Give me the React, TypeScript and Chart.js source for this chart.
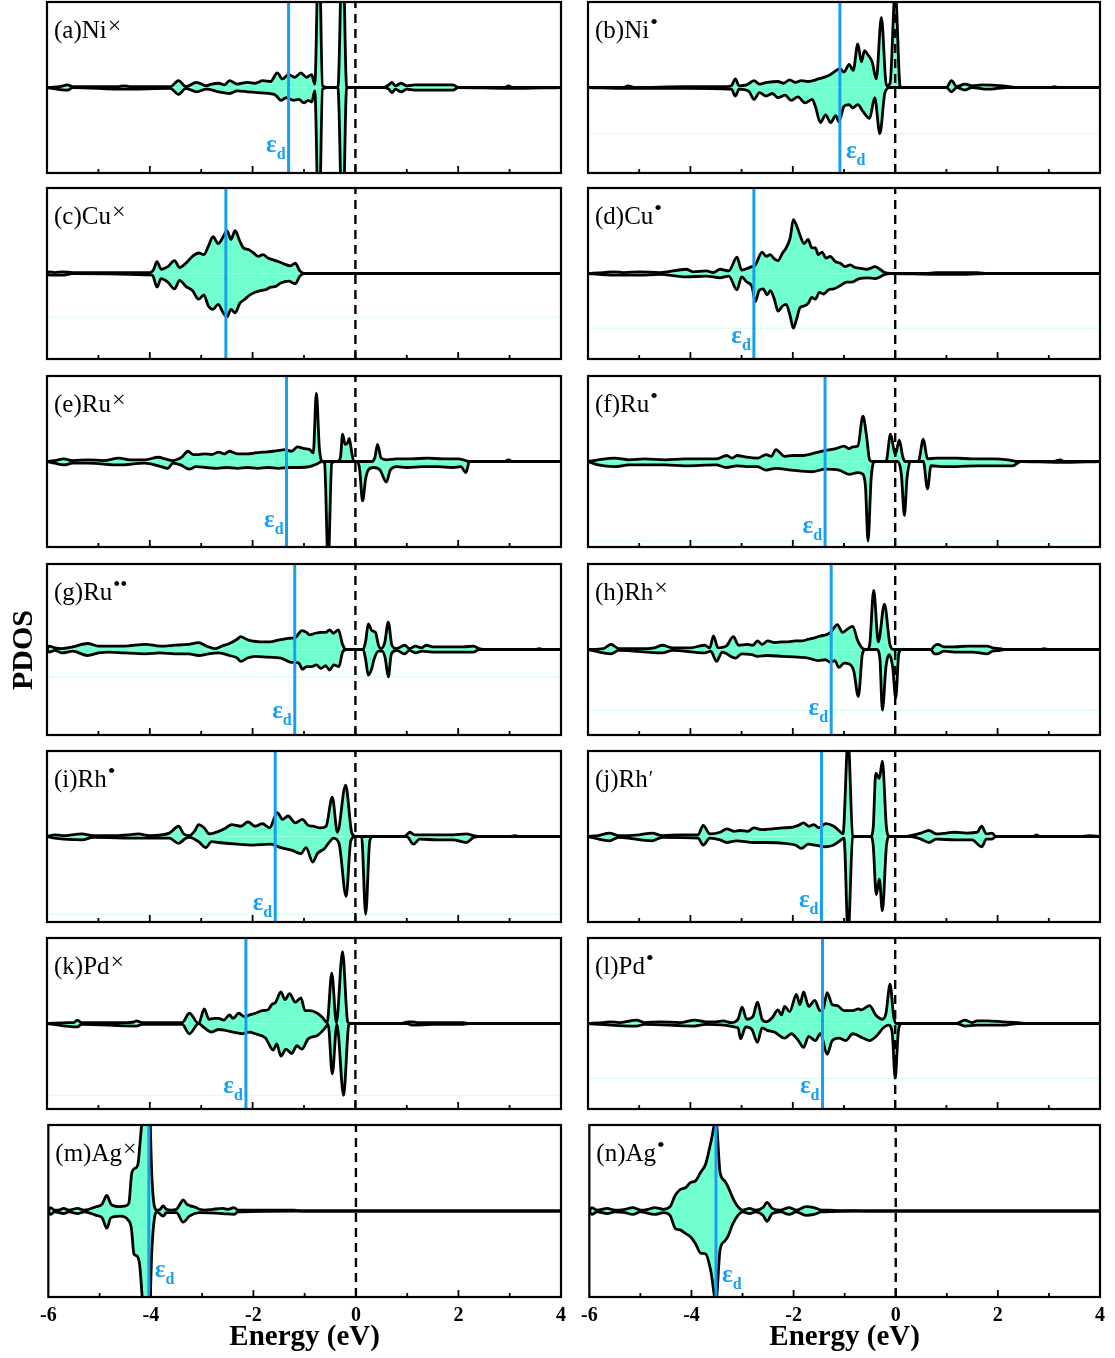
import { useEffect, useRef } from 'react';
import { Chart, registerables } from 'chart.js';

Chart.register(...registerables);

type Pt = [number, number];

// ---- energy window (eV) ----
const E_MIN = -6;
const E_MAX = 4;

// ---- panel metadata ----
const panelTags = ['a', 'b', 'c', 'd', 'e', 'f', 'g', 'h', 'i', 'j', 'k', 'l', 'm', 'n'];
const elements = ['Ni', 'Ni', 'Cu', 'Cu', 'Ru', 'Ru', 'Ru', 'Rh', 'Rh', 'Rh', 'Pd', 'Pd', 'Ag', 'Ag'];
const charges = ['×', '•', '×', '•', '×', '•', '••', '×', '•', '′', '×', '•', '×', '•'];
// d-band centres (eV)
const dBandCentres = [-1.3, -1.08, -2.52, -2.76, -1.34, -1.37, -1.18, -1.25, -1.56, -1.44, -2.13, -1.42, -4.04, -3.52];

// ---- PDOS, spin up (positive) and spin down (negative), [energy, states] ----
const niX_up: Pt[] = [[-6,0],[-5.75,0.01],[-5.6,0.03],[-5.5,0.01],[-4.6,0.01],[-4.5,0.02],[-4.4,0.01],[-3.6,0.01],[-3.44,0.08],[-3.3,0.01],[-3.09,0.06],[-2.9,0.02],[-2.8,0.04],[-2.66,0.05],[-2.55,0.03],[-2.45,0.08],[-2.3,0.04],[-2.1,0.06],[-1.95,0.05],[-1.8,0.08],[-1.65,0.07],[-1.52,0.17],[-1.42,0.1],[-1.3,0.15],[-1.18,0.12],[-1.06,0.17],[-0.95,0.12],[-0.85,0.15],[-0.79,0.04],[-0.71,1.8],[-0.64,0.02],[-0.55,0],[-0.34,0],[-0.25,1.8],[-0.17,0],[0.55,0],[0.65,0.03],[0.71,0.06],[0.78,0.02],[0.89,0.05],[1.0,0.02],[1.15,0.03],[1.4,0.03],[1.65,0.03],[1.9,0.03],[2.0,0],[2.9,0],[2.98,0.02],[3.05,0],[4,0]];
const niX_dn: Pt[] = [[-6,0],[-5.6,-0.03],[-5.5,0],[-4.5,-0.02],[-3.6,-0.01],[-3.44,-0.08],[-3.3,-0.01],[-3.09,-0.05],[-2.9,-0.02],[-2.66,-0.05],[-2.45,-0.07],[-2.3,-0.04],[-2.1,-0.05],[-1.9,-0.06],[-1.7,-0.07],[-1.55,-0.09],[-1.45,-0.15],[-1.35,-0.12],[-1.2,-0.15],[-1.1,-0.14],[-1.0,-0.18],[-0.92,-0.15],[-0.85,-0.17],[-0.79,-0.04],[-0.71,-1.8],[-0.64,-0.02],[-0.55,0],[-0.34,0],[-0.25,-1.8],[-0.17,0],[0.55,0],[0.65,-0.02],[0.71,-0.06],[0.78,-0.02],[0.89,-0.05],[1.0,-0.02],[1.15,-0.03],[1.4,-0.03],[1.65,-0.03],[1.9,-0.03],[2.0,0],[2.98,-0.01],[4,0]];

const niD_up: Pt[] = [[-6,0],[-5.3,0],[-5.22,0.02],[-5.1,0],[-4.1,0.01],[-3.3,0.01],[-3.2,0.02],[-3.12,0.1],[-3.05,0.02],[-2.9,0.03],[-2.76,0.08],[-2.65,0.04],[-2.5,0.06],[-2.29,0.07],[-2.18,0.05],[-2.06,0.09],[-1.95,0.06],[-1.83,0.08],[-1.7,0.07],[-1.5,0.1],[-1.3,0.14],[-1.15,0.2],[-1.08,0.22],[-1.0,0.18],[-0.9,0.27],[-0.82,0.2],[-0.73,0.51],[-0.66,0.3],[-0.6,0.43],[-0.53,0.38],[-0.45,0.3],[-0.37,0.1],[-0.27,0.82],[-0.17,0.02],[-0.1,0.05],[0.0,1.15],[0.1,0],[1.0,0],[1.1,0.08],[1.2,0.01],[1.36,0.04],[1.5,0.02],[1.7,0.03],[2.1,0.02],[2.4,0],[3.05,0],[3.1,0.01],[3.2,0],[4,0]];
const niD_dn: Pt[] = [[-6,0],[-5.22,-0.01],[-4.1,-0.01],[-3.2,-0.02],[-3.12,-0.1],[-3.05,-0.02],[-2.85,-0.05],[-2.76,-0.14],[-2.65,-0.06],[-2.52,-0.1],[-2.4,-0.07],[-2.29,-0.12],[-2.15,-0.09],[-2.03,-0.15],[-1.9,-0.11],[-1.76,-0.18],[-1.62,-0.14],[-1.56,-0.22],[-1.46,-0.41],[-1.36,-0.32],[-1.26,-0.41],[-1.16,-0.33],[-1.1,-0.4],[-1.0,-0.22],[-0.9,-0.2],[-0.83,-0.24],[-0.73,-0.2],[-0.63,-0.28],[-0.5,-0.36],[-0.4,-0.12],[-0.3,-0.54],[-0.2,-0.06],[-0.1,0],[1.0,0],[1.1,-0.05],[1.2,0],[1.36,-0.03],[1.5,0],[1.8,-0.02],[2.2,0],[4,0]];

const cuX_up: Pt[] = [[-6,0],[-5.95,0.02],[-5.85,0.01],[-5.7,0.02],[-5.5,0.01],[-4.5,0.01],[-4.0,0.01],[-3.93,0.04],[-3.86,0.14],[-3.78,0.05],[-3.65,0.08],[-3.52,0.15],[-3.42,0.07],[-3.3,0.12],[-3.17,0.2],[-3.05,0.24],[-2.95,0.22],[-2.86,0.32],[-2.77,0.43],[-2.67,0.35],[-2.58,0.42],[-2.5,0.5],[-2.42,0.4],[-2.34,0.5],[-2.25,0.38],[-2.18,0.3],[-2.08,0.28],[-1.98,0.24],[-1.89,0.2],[-1.8,0.22],[-1.7,0.18],[-1.6,0.16],[-1.5,0.14],[-1.38,0.11],[-1.27,0.09],[-1.17,0.12],[-1.08,0.03],[-1.0,0],[4,0]];
const cuX_dn: Pt[] = [[-6,0],[-5.95,-0.02],[-5.7,-0.02],[-5.5,0],[-3.95,-0.02],[-3.86,-0.16],[-3.78,-0.06],[-3.65,-0.1],[-3.52,-0.18],[-3.42,-0.08],[-3.3,-0.15],[-3.17,-0.2],[-3.05,-0.3],[-2.95,-0.25],[-2.86,-0.38],[-2.77,-0.42],[-2.67,-0.36],[-2.58,-0.45],[-2.5,-0.51],[-2.42,-0.42],[-2.34,-0.46],[-2.25,-0.35],[-2.15,-0.3],[-2.05,-0.25],[-1.95,-0.22],[-1.85,-0.2],[-1.75,-0.19],[-1.65,-0.16],[-1.55,-0.15],[-1.45,-0.11],[-1.3,-0.09],[-1.17,-0.12],[-1.08,-0.03],[-1.0,0],[4,0]];

const cuD_up: Pt[] = [[-6,0],[-5.7,0.01],[-5.5,0.02],[-5.3,0.01],[-5.0,0.02],[-4.6,0.01],[-4.08,0.05],[-3.95,0.02],[-3.69,0.03],[-3.55,0.01],[-3.42,0.05],[-3.25,0.03],[-3.09,0.19],[-3.0,0.04],[-2.93,0.05],[-2.8,0.08],[-2.73,0.1],[-2.6,0.25],[-2.52,0.2],[-2.44,0.22],[-2.36,0.17],[-2.29,0.15],[-2.2,0.24],[-2.13,0.3],[-2.05,0.42],[-1.99,0.63],[-1.92,0.55],[-1.86,0.45],[-1.78,0.35],[-1.7,0.4],[-1.63,0.3],[-1.56,0.3],[-1.5,0.22],[-1.43,0.25],[-1.35,0.18],[-1.27,0.2],[-1.17,0.14],[-1.07,0.12],[-0.98,0.08],[-0.88,0.1],[-0.78,0.07],[-0.68,0.06],[-0.55,0.05],[-0.39,0.08],[-0.3,0.05],[-0.2,0.01],[-0.1,0],[0.6,0],[0.8,0.01],[1.2,0.01],[1.6,0.01],[1.8,0],[4,0]];
const cuD_dn: Pt[] = [[-6,0],[-5.5,-0.02],[-5.0,-0.02],[-4.6,-0.01],[-4.08,-0.04],[-3.69,-0.03],[-3.42,-0.05],[-3.25,-0.03],[-3.09,-0.19],[-3.0,-0.04],[-2.9,-0.1],[-2.8,-0.15],[-2.73,-0.33],[-2.66,-0.2],[-2.58,-0.18],[-2.5,-0.25],[-2.44,-0.2],[-2.36,-0.3],[-2.29,-0.44],[-2.2,-0.38],[-2.13,-0.36],[-2.05,-0.5],[-1.99,-0.64],[-1.92,-0.52],[-1.86,-0.4],[-1.78,-0.38],[-1.7,-0.35],[-1.63,-0.28],[-1.56,-0.3],[-1.48,-0.22],[-1.4,-0.24],[-1.3,-0.19],[-1.2,-0.18],[-1.07,-0.14],[-0.95,-0.1],[-0.85,-0.1],[-0.7,-0.06],[-0.55,-0.05],[-0.39,-0.06],[-0.3,-0.04],[-0.2,-0.01],[-0.1,0],[0.8,-0.01],[1.4,-0.01],[1.8,0],[4,0]];

const ruX_up: Pt[] = [[-6,0],[-5.85,0.01],[-5.67,0.03],[-5.5,0.01],[-5.2,0.02],[-4.9,0.01],[-4.6,0.04],[-4.4,0.02],[-4.1,0.02],[-3.83,0.05],[-3.7,0.03],[-3.55,0.01],[-3.48,0.02],[-3.38,0.05],[-3.26,0.12],[-3.15,0.08],[-3.05,0.08],[-2.92,0.09],[-2.8,0.08],[-2.66,0.11],[-2.55,0.09],[-2.45,0.12],[-2.3,0.09],[-2.1,0.09],[-1.95,0.1],[-1.78,0.11],[-1.6,0.12],[-1.48,0.13],[-1.38,0.14],[-1.24,0.12],[-1.13,0.17],[-0.99,0.15],[-0.89,0.14],[-0.82,0.1],[-0.76,0.8],[-0.7,0.15],[-0.64,0],[-0.35,0],[-0.29,0.05],[-0.25,0.32],[-0.2,0.2],[-0.15,0.22],[-0.12,0.27],[-0.07,0.1],[-0.03,0],[0.32,0],[0.38,0.05],[0.43,0.2],[0.5,0.04],[0.6,0.02],[0.8,0.03],[1.1,0.03],[1.4,0.04],[1.7,0.03],[2.0,0.03],[2.1,0.02],[2.2,0],[2.9,0],[2.98,0.02],[3.05,0],[4,0]];
const ruX_dn: Pt[] = [[-6,0],[-5.85,-0.02],[-5.67,-0.04],[-5.5,-0.02],[-5.2,-0.02],[-4.6,-0.04],[-4.1,-0.02],[-3.83,-0.05],[-3.65,-0.08],[-3.55,-0.02],[-3.4,-0.04],[-3.23,-0.09],[-3.1,-0.06],[-2.9,-0.07],[-2.7,-0.08],[-2.5,-0.07],[-2.3,-0.08],[-2.1,-0.07],[-1.9,-0.08],[-1.7,-0.07],[-1.5,-0.08],[-1.31,-0.07],[-1.1,-0.07],[-0.89,-0.06],[-0.75,-0.03],[-0.65,0],[-0.6,-0.02],[-0.53,-1.2],[-0.46,-0.02],[-0.4,0],[0.02,0],[0.08,-0.08],[0.14,-0.46],[0.2,-0.2],[0.25,-0.1],[0.35,-0.07],[0.48,-0.1],[0.6,-0.24],[0.68,-0.1],[0.8,-0.06],[1.0,-0.07],[1.3,-0.06],[1.6,-0.06],[1.9,-0.07],[2.05,-0.06],[2.15,-0.13],[2.22,0],[4,0]];

const ruD_up: Pt[] = [[-6,0],[-5.8,0.02],[-5.48,0.04],[-5.2,0.02],[-4.9,0.03],[-4.5,0.02],[-4.1,0.03],[-3.5,0.03],[-3.29,0.07],[-3.18,0.04],[-3.09,0.07],[-2.9,0.05],[-2.69,0.04],[-2.52,0.08],[-2.42,0.06],[-2.33,0.14],[-2.16,0.06],[-2.0,0.07],[-1.83,0.07],[-1.56,0.1],[-1.36,0.13],[-1.16,0.15],[-1.0,0.18],[-0.9,0.15],[-0.83,0.17],[-0.73,0.18],[-0.63,0.53],[-0.56,0.3],[-0.5,0.02],[-0.45,0],[-0.18,0],[-0.09,0.32],[0.0,0.08],[0.08,0.25],[0.15,0.05],[0.2,0],[0.45,0],[0.55,0.26],[0.63,0.03],[0.8,0.04],[1.0,0.04],[1.2,0.04],[1.5,0.03],[1.9,0.03],[2.2,0.02],[2.4,0],[3.1,0],[3.22,0.02],[3.3,0],[4,0]];
const ruD_dn: Pt[] = [[-6,0],[-5.8,-0.04],[-5.48,-0.06],[-5.2,-0.04],[-4.9,-0.04],[-4.5,-0.04],[-4.1,-0.05],[-3.5,-0.04],[-3.29,-0.07],[-3.1,-0.05],[-2.9,-0.06],[-2.69,-0.06],[-2.52,-0.1],[-2.33,-0.08],[-2.03,-0.1],[-1.63,-0.12],[-1.36,-0.09],[-1.1,-0.1],[-0.9,-0.15],[-0.73,-0.13],[-0.63,-0.15],[-0.58,-0.3],[-0.53,-0.93],[-0.47,-0.2],[-0.4,0],[0.05,0],[0.12,-0.15],[0.18,-0.63],[0.23,-0.2],[0.3,0],[0.55,0],[0.63,-0.32],[0.7,-0.05],[0.9,-0.06],[1.2,-0.06],[1.6,-0.05],[1.9,-0.05],[2.3,-0.05],[2.45,0],[3.22,-0.01],[4,0]];

const ruDD_up: Pt[] = [[-6,0],[-5.96,0.04],[-5.85,0.02],[-5.71,0.01],[-5.5,0.03],[-5.21,0.07],[-5.0,0.04],[-4.79,0.04],[-4.5,0.04],[-4.08,0.06],[-3.8,0.04],[-3.51,0.05],[-3.25,0.06],[-3.05,0.08],[-2.9,0.04],[-2.73,0.01],[-2.6,0.04],[-2.45,0.07],[-2.3,0.12],[-2.23,0.15],[-2.12,0.12],[-2.02,0.1],[-1.85,0.09],[-1.67,0.09],[-1.5,0.11],[-1.31,0.13],[-1.17,0.14],[-1.04,0.22],[-0.95,0.2],[-0.89,0.17],[-0.78,0.19],[-0.67,0.2],[-0.58,0.2],[-0.5,0.23],[-0.43,0.19],[-0.33,0.23],[-0.25,0.06],[-0.18,0],[0.15,0],[0.2,0.1],[0.25,0.3],[0.32,0.22],[0.39,0.2],[0.45,0.05],[0.5,0.01],[0.57,0.08],[0.64,0.32],[0.71,0.05],[0.8,0.01],[0.96,0.05],[1.05,0.01],[1.17,0.04],[1.28,0.02],[1.38,0.05],[1.5,0.03],[1.8,0.03],[2.1,0.03],[2.3,0.04],[2.4,0.01],[2.5,0],[3.5,0],[3.58,0.01],[3.65,0],[4,0]];
const ruDD_dn: Pt[] = [[-6,0],[-5.96,-0.03],[-5.85,-0.01],[-5.71,-0.04],[-5.5,-0.02],[-5.21,-0.07],[-5.0,-0.04],[-4.79,-0.03],[-4.5,-0.04],[-4.08,-0.05],[-3.8,-0.04],[-3.51,-0.05],[-3.25,-0.05],[-3.05,-0.07],[-2.85,-0.05],[-2.66,-0.04],[-2.45,-0.07],[-2.3,-0.1],[-2.23,-0.14],[-2.1,-0.1],[-1.95,-0.08],[-1.7,-0.09],[-1.45,-0.1],[-1.24,-0.15],[-1.1,-0.16],[-1.03,-0.23],[-0.95,-0.2],[-0.85,-0.2],[-0.76,-0.18],[-0.67,-0.22],[-0.58,-0.19],[-0.5,-0.24],[-0.42,-0.18],[-0.32,-0.2],[-0.25,-0.03],[-0.18,0],[0.15,0],[0.2,-0.12],[0.25,-0.3],[0.32,-0.22],[0.36,-0.12],[0.45,-0.02],[0.52,-0.02],[0.58,-0.1],[0.64,-0.32],[0.7,-0.05],[0.8,-0.01],[0.96,-0.05],[1.05,-0.01],[1.17,-0.04],[1.3,-0.02],[1.5,-0.03],[1.9,-0.03],[2.3,-0.03],[2.4,0],[4,0]];

const rhX_up: Pt[] = [[-6,0],[-5.7,0.01],[-5.55,0.06],[-5.4,0.01],[-5.0,0.01],[-4.7,0.02],[-4.55,0.05],[-4.35,0.02],[-4.0,0.02],[-3.72,0.05],[-3.62,0.02],[-3.55,0.16],[-3.46,0.02],[-3.3,0.04],[-3.16,0.15],[-3.06,0.05],[-2.89,0.06],[-2.78,0.05],[-2.69,0.1],[-2.6,0.06],[-2.49,0.1],[-2.35,0.08],[-2.2,0.09],[-2.09,0.09],[-1.95,0.1],[-1.83,0.1],[-1.7,0.12],[-1.56,0.14],[-1.45,0.16],[-1.36,0.17],[-1.26,0.2],[-1.13,0.29],[-1.03,0.2],[-0.93,0.24],[-0.83,0.27],[-0.73,0.1],[-0.63,0.01],[-0.55,0],[-0.5,0.05],[-0.42,0.69],[-0.33,0.09],[-0.21,0.53],[-0.1,0.05],[-0.03,0],[0.7,0],[0.76,0.04],[0.83,0.06],[0.95,0.03],[1.16,0.03],[1.4,0.04],[1.6,0.04],[1.8,0.04],[1.9,0.02],[2.05,0.01],[2.15,0],[2.85,0],[2.9,0.01],[3.0,0],[4,0]];
const rhX_dn: Pt[] = [[-6,0],[-5.55,-0.05],[-5.4,-0.01],[-4.55,-0.04],[-4.35,-0.01],[-3.72,-0.04],[-3.6,-0.02],[-3.49,-0.14],[-3.38,-0.03],[-3.12,-0.1],[-3.0,-0.05],[-2.8,-0.06],[-2.69,-0.08],[-2.5,-0.07],[-2.2,-0.08],[-1.9,-0.09],[-1.7,-0.1],[-1.5,-0.13],[-1.36,-0.12],[-1.26,-0.15],[-1.18,-0.13],[-1.1,-0.21],[-1.0,-0.16],[-0.9,-0.17],[-0.81,-0.25],[-0.72,-0.55],[-0.64,-0.05],[-0.58,0],[-0.36,0],[-0.3,-0.1],[-0.25,-0.71],[-0.18,-0.2],[-0.12,-0.06],[-0.05,-0.2],[0.01,-0.57],[0.07,-0.05],[0.12,0],[0.7,0],[0.76,-0.05],[0.83,-0.05],[0.95,-0.02],[1.16,-0.03],[1.5,-0.03],[1.8,-0.05],[1.9,-0.02],[2.05,-0.01],[2.15,0],[4,0]];

const rhD_up: Pt[] = [[-6,0],[-5.85,0.02],[-5.7,0.01],[-5.32,0.03],[-5.1,0.01],[-4.8,0.01],[-4.4,0.02],[-4.22,0.03],[-4.0,0.01],[-3.62,0.04],[-3.44,0.12],[-3.34,0.03],[-3.23,0.01],[-3.12,0.07],[-3.05,0.14],[-2.94,0.1],[-2.84,0.03],[-2.66,0.06],[-2.52,0.1],[-2.41,0.14],[-2.23,0.12],[-2.09,0.17],[-1.95,0.12],[-1.81,0.15],[-1.67,0.1],[-1.52,0.28],[-1.42,0.2],[-1.31,0.24],[-1.17,0.16],[-1.03,0.2],[-0.92,0.13],[-0.83,0.12],[-0.67,0.1],[-0.57,0.12],[-0.45,0.46],[-0.35,0.05],[-0.19,0.6],[-0.07,0.04],[0,0],[0.95,0],[1.06,0.05],[1.15,0.02],[1.3,0.02],[1.6,0.02],[1.9,0.02],[2.16,0.03],[2.3,0.01],[2.4,0],[3.0,0],[3.1,0.01],[3.2,0],[4,0]];
const rhD_dn: Pt[] = [[-6,0],[-5.85,-0.02],[-5.32,-0.04],[-5.1,-0.01],[-4.22,-0.02],[-3.62,-0.02],[-3.44,-0.08],[-3.3,-0.02],[-3.23,-0.01],[-3.05,-0.06],[-2.91,-0.13],[-2.8,-0.06],[-2.66,-0.07],[-2.3,-0.09],[-2.0,-0.1],[-1.65,-0.09],[-1.45,-0.13],[-1.24,-0.16],[-1.06,-0.2],[-0.96,-0.13],[-0.83,-0.3],[-0.74,-0.2],[-0.6,-0.14],[-0.5,-0.06],[-0.43,-0.02],[-0.32,-0.08],[-0.18,-0.7],[-0.09,-0.05],[0,0],[0.12,0],[0.2,-0.91],[0.28,-0.05],[0.35,0],[1.0,0],[1.13,-0.09],[1.25,-0.03],[1.6,-0.04],[1.9,-0.04],[2.16,-0.07],[2.3,-0.01],[2.4,0],[4,0]];

const rhP_up: Pt[] = [[-6,0],[-5.8,0.01],[-5.58,0.04],[-5.4,0.01],[-5.0,0.02],[-4.75,0.04],[-4.55,0.01],[-4.2,0.02],[-4.0,0.02],[-3.85,0.02],[-3.75,0.13],[-3.62,0.03],[-3.42,0.05],[-3.29,0.09],[-3.15,0.06],[-3.02,0.07],[-2.88,0.06],[-2.76,0.1],[-2.6,0.08],[-2.4,0.09],[-2.2,0.1],[-2.0,0.11],[-1.89,0.13],[-1.79,0.16],[-1.69,0.12],[-1.59,0.14],[-1.49,0.1],[-1.36,0.15],[-1.2,0.12],[-1.1,0.07],[-1.02,0.03],[-0.92,1.15],[-0.83,0.01],[-0.78,0],[-0.48,0],[-0.43,0.1],[-0.38,0.74],[-0.31,0.68],[-0.25,0.88],[-0.17,0.1],[-0.11,0],[0.2,0],[0.3,0.01],[0.5,0.04],[0.66,0.07],[0.8,0.03],[1.0,0.04],[1.16,0.05],[1.4,0.04],[1.6,0.05],[1.69,0.12],[1.78,0.03],[1.89,0.04],[1.97,0],[2.7,0],[2.76,0.02],[2.82,0],[3.6,0],[3.8,0.01],[4,0]];
const rhP_dn: Pt[] = [[-6,0],[-5.58,-0.05],[-5.4,-0.01],[-4.75,-0.05],[-4.55,-0.01],[-3.85,-0.02],[-3.75,-0.1],[-3.62,-0.02],[-3.42,-0.04],[-3.29,-0.07],[-3.1,-0.05],[-2.76,-0.07],[-2.5,-0.07],[-2.16,-0.08],[-1.95,-0.1],[-1.83,-0.14],[-1.7,-0.09],[-1.56,-0.1],[-1.36,-0.12],[-1.2,-0.1],[-1.08,-0.05],[-1.0,-0.02],[-0.92,-1.15],[-0.83,-0.01],[-0.78,0],[-0.48,0],[-0.43,-0.1],[-0.37,-0.68],[-0.31,-0.5],[-0.25,-0.87],[-0.17,-0.1],[-0.11,0],[0.3,0],[0.5,-0.03],[0.66,-0.07],[0.8,-0.03],[1.16,-0.04],[1.5,-0.04],[1.69,-0.12],[1.78,-0.03],[1.89,-0.03],[1.97,0],[4,0]];

const pdX_up: Pt[] = [[-6,0],[-5.6,0.01],[-5.48,0.01],[-5.41,0.04],[-5.33,0.01],[-4.5,0.01],[-4.3,0.02],[-4.26,0.03],[-4.15,0.01],[-3.8,0.01],[-3.37,0.01],[-3.23,0.12],[-3.05,0],[-2.94,0.17],[-2.85,0.05],[-2.75,0.06],[-2.66,0.06],[-2.56,0.04],[-2.45,0.1],[-2.38,0.06],[-2.27,0.12],[-2.16,0.08],[-2.06,0.1],[-1.95,0.12],[-1.81,0.15],[-1.7,0.16],[-1.63,0.22],[-1.55,0.25],[-1.45,0.37],[-1.37,0.28],[-1.28,0.35],[-1.17,0.25],[-1.06,0.3],[-0.98,0.15],[-0.89,0.15],[-0.74,0.12],[-0.64,0.07],[-0.55,0.01],[-0.46,0.59],[-0.37,0.01],[-0.25,0.84],[-0.15,0.02],[-0.1,0],[0.9,0],[1.03,0.02],[1.1,0.02],[1.2,0.01],[1.5,0.01],[1.8,0.01],[2.1,0.01],[2.2,0],[4,0]];
const pdX_dn: Pt[] = [[-6,0],[-5.41,-0.04],[-5.33,-0.01],[-4.26,-0.03],[-4.15,-0.01],[-3.37,-0.01],[-3.23,-0.12],[-3.05,0],[-2.94,-0.05],[-2.8,-0.1],[-2.66,-0.07],[-2.53,-0.08],[-2.38,-0.1],[-2.2,-0.12],[-2.06,-0.1],[-1.95,-0.12],[-1.75,-0.17],[-1.6,-0.31],[-1.53,-0.24],[-1.45,-0.38],[-1.35,-0.3],[-1.24,-0.35],[-1.14,-0.26],[-1.04,-0.3],[-0.92,-0.18],[-0.74,-0.14],[-0.6,-0.06],[-0.53,-0.01],[-0.45,-0.59],[-0.36,-0.01],[-0.23,-0.84],[-0.13,-0.02],[-0.1,0],[1.0,0],[1.1,-0.02],[1.5,-0.01],[2.1,-0.01],[2.2,0],[4,0]];

const pdD_up: Pt[] = [[-6,0],[-5.7,0.01],[-5.55,0.02],[-5.4,0.01],[-5.05,0.04],[-4.9,0.01],[-4.6,0.02],[-4.2,0.01],[-3.92,0.04],[-3.7,0.02],[-3.5,0.02],[-3.36,0.03],[-3.2,0.01],[-3.07,0.05],[-2.99,0.19],[-2.9,0.05],[-2.78,0.08],[-2.69,0.25],[-2.6,0.05],[-2.52,0.02],[-2.4,0.07],[-2.29,0.16],[-2.22,0.1],[-2.16,0.2],[-2.06,0.14],[-1.93,0.34],[-1.86,0.22],[-1.79,0.37],[-1.69,0.2],[-1.57,0.27],[-1.47,0.15],[-1.4,0.18],[-1.33,0.36],[-1.23,0.22],[-1.13,0.21],[-1.0,0.15],[-0.83,0.15],[-0.72,0.17],[-0.66,0.16],[-0.5,0.21],[-0.38,0.1],[-0.25,0.05],[-0.18,0.12],[-0.1,0.46],[-0.03,0.08],[0.03,0],[1.2,0],[1.36,0.04],[1.5,0.01],[1.6,0.03],[1.8,0.03],[2.1,0.02],[2.4,0.01],[2.6,0],[4,0]];
const pdD_dn: Pt[] = [[-6,0],[-5.05,-0.03],[-4.9,-0.01],[-3.92,-0.03],[-3.7,-0.01],[-3.07,-0.05],[-3.02,-0.18],[-2.92,-0.04],[-2.8,-0.07],[-2.69,-0.22],[-2.6,-0.05],[-2.5,-0.08],[-2.36,-0.1],[-2.16,-0.17],[-2.03,-0.12],[-1.89,-0.2],[-1.79,-0.28],[-1.69,-0.15],[-1.56,-0.2],[-1.46,-0.12],[-1.33,-0.36],[-1.23,-0.2],[-1.1,-0.17],[-0.97,-0.2],[-0.83,-0.12],[-0.63,-0.17],[-0.5,-0.2],[-0.37,-0.15],[-0.23,-0.05],[-0.13,-0.02],[-0.06,-0.1],[0.0,-0.64],[0.06,-0.1],[0.12,0],[1.2,0],[1.36,-0.03],[1.6,-0.02],[2.1,-0.02],[2.4,0],[4,0]];

const agX_up: Pt[] = [[-6,0],[-5.96,0.04],[-5.88,0.01],[-5.8,0.01],[-5.7,0.03],[-5.6,0.01],[-5.43,0.03],[-5.3,0.01],[-5.07,0.05],[-4.95,0.08],[-4.86,0.18],[-4.78,0.08],[-4.72,0.06],[-4.6,0.05],[-4.5,0.06],[-4.43,0.09],[-4.37,0.45],[-4.3,0.5],[-4.25,0.55],[-4.21,0.8],[-4.12,1.4],[-4.05,1.6],[-3.98,0.4],[-3.93,0.05],[-3.88,0.01],[-3.82,0.02],[-3.76,0.06],[-3.7,0.02],[-3.6,0.01],[-3.5,0.02],[-3.43,0.08],[-3.37,0.13],[-3.3,0.08],[-3.23,0.06],[-3.12,0.04],[-3.05,0.02],[-2.95,0.01],[-2.8,0.02],[-2.6,0.03],[-2.5,0.02],[-2.38,0.04],[-2.3,0.01],[-2.1,0.01],[-1.8,0.01],[-1.5,0.01],[-1.2,0.01],[-1.05,0],[4,0]];
const agX_dn: Pt[] = [[-6,0],[-5.96,-0.04],[-5.88,-0.01],[-5.7,-0.03],[-5.6,-0.01],[-5.43,-0.03],[-5.3,-0.01],[-5.07,-0.05],[-4.95,-0.08],[-4.86,-0.2],[-4.78,-0.08],[-4.6,-0.06],[-4.45,-0.1],[-4.38,-0.2],[-4.33,-0.5],[-4.28,-0.52],[-4.22,-0.62],[-4.12,-1.4],[-4.05,-1.6],[-3.98,-0.45],[-3.92,-0.05],[-3.88,-0.01],[-3.76,-0.06],[-3.7,-0.02],[-3.5,-0.02],[-3.37,-0.13],[-3.25,-0.06],[-3.05,-0.02],[-2.6,-0.03],[-2.38,-0.04],[-2.3,-0.01],[-1.05,0],[4,0]];

const agD_up: Pt[] = [[-6,0],[-5.95,0.04],[-5.85,0.01],[-5.65,0.03],[-5.5,0.01],[-5.3,0.02],[-5.15,0.04],[-5.0,0.01],[-4.85,0.02],[-4.72,0.04],[-4.55,0.02],[-4.42,0.05],[-4.32,0.18],[-4.22,0.25],[-4.12,0.27],[-4.02,0.33],[-3.92,0.35],[-3.82,0.45],[-3.72,0.55],[-3.62,0.8],[-3.52,1.05],[-3.44,0.45],[-3.35,0.35],[-3.29,0.29],[-3.19,0.15],[-3.09,0.05],[-3.0,0.01],[-2.86,0.03],[-2.75,0.01],[-2.6,0.04],[-2.52,0.1],[-2.42,0.03],[-2.25,0.01],[-2.09,0.04],[-1.95,0.01],[-1.76,0.05],[-1.6,0.04],[-1.45,0.01],[-1.3,0.01],[-1.1,0.005],[-0.8,0.005],[-0.5,0],[4,0]];
const agD_dn: Pt[] = [[-6,0],[-5.95,-0.04],[-5.85,-0.01],[-5.65,-0.03],[-5.5,-0.01],[-5.3,-0.02],[-5.15,-0.04],[-5.0,-0.01],[-4.72,-0.04],[-4.55,-0.02],[-4.42,-0.05],[-4.32,-0.2],[-4.22,-0.22],[-4.12,-0.26],[-4.02,-0.3],[-3.92,-0.38],[-3.82,-0.49],[-3.72,-0.5],[-3.62,-0.7],[-3.52,-1.05],[-3.44,-0.45],[-3.35,-0.35],[-3.29,-0.3],[-3.19,-0.15],[-3.09,-0.05],[-3.0,-0.01],[-2.86,-0.03],[-2.75,-0.01],[-2.6,-0.05],[-2.52,-0.12],[-2.42,-0.03],[-2.25,-0.01],[-2.09,-0.04],[-1.95,-0.01],[-1.76,-0.05],[-1.6,-0.04],[-1.45,-0.01],[-0.5,0],[4,0]];

const spinUp: Pt[][] = [niX_up, niD_up, cuX_up, cuD_up, ruX_up, ruD_up, ruDD_up, rhX_up, rhD_up, rhP_up, pdX_up, pdD_up, agX_up, agD_up];
const spinDown: Pt[][] = [niX_dn, niD_dn, cuX_dn, cuD_dn, ruX_dn, ruD_dn, ruDD_dn, rhX_dn, rhD_dn, rhP_dn, pdX_dn, pdD_dn, agX_dn, agD_dn];

// ---- page geometry (px) ----
const COL_LEFT = [47, 588];
const COL_WIDTH = [514, 512];
const ROW_TOP = [2, 188, 376, 564, 751, 938, 1125];
const ROW_HEIGHT = [171, 171, 171, 171, 171, 171, 172];
const PAD_X = 14;
const PAD_Y = 4;
const AXIS_H = 58;

// ---- styles ----
const SERIF = '"Liberation Serif", "Times New Roman", serif';
const FILL = '#72FFD0';
const BASE_TRACE = 'rgba(116,255,210,0.35)';
const BLUE = '#17A0F0';

// placement of the ε_d tag beside the d-band-centre line
const epsTag: ({ side: 'left' | 'right'; lift: number } | null)[] = [
  { side: 'left', lift: 21 },
  { side: 'right', lift: 15 },
  null,
  { side: 'left', lift: 16 },
  { side: 'left', lift: 20 },
  { side: 'left', lift: 14 },
  { side: 'left', lift: 17 },
  { side: 'left', lift: 20 },
  { side: 'left', lift: 12 },
  { side: 'left', lift: 15 },
  { side: 'left', lift: 16 },
  { side: 'left', lift: 16 },
  { side: 'right', lift: 20 },
  { side: 'right', lift: 15 },
];

// superscript style per charge symbol
const supStyle: Record<string, { size: number; raise: number }> = {
  '×': { size: 24, raise: 5 },
  '•': { size: 22, raise: 9 },
  '••': { size: 20, raise: 9 },
  '′': { size: 20, raise: 2 },
};

const toXY = (pts: Pt[]) => pts.map(([x, y]) => ({ x, y }));

function PanelChart({ idx }: { idx: number }) {
  const ref = useRef<HTMLCanvasElement>(null);
  const col = idx % 2;
  const row = Math.floor(idx / 2);
  const isBottom = row === ROW_TOP.length - 1;
  const width = COL_WIDTH[col] + PAD_X * 2;
  const height = ROW_HEIGHT[row] + PAD_Y + (isBottom ? AXIS_H : PAD_Y);

  useEffect(() => {
    const canvas = ref.current;
    if (!canvas) return;
    const up = spinUp[idx];
    const dn = spinDown[idx];
    const eD = dBandCentres[idx];
    const minDn = Math.min(...dn.map((p) => p[1]));

    const decor = {
      id: 'panelDecor',
      beforeDatasetsDraw(chart: Chart) {
        const { ctx, chartArea } = chart;
        ctx.save();
        ctx.fillStyle = '#000';
        ctx.textBaseline = 'alphabetic';
        ctx.textAlign = 'left';
        ctx.font = `25px ${SERIF}`;
        const main = `(${panelTags[idx]})${elements[idx]}`;
        const x0 = chartArea.left + 7;
        const y0 = chartArea.top + 36;
        ctx.fillText(main, x0, y0);
        const w = ctx.measureText(main).width;
        const s = supStyle[charges[idx]];
        ctx.font = `${s.size}px ${SERIF}`;
        ctx.fillText(charges[idx], x0 + w + 1, y0 - s.raise);
        ctx.restore();
      },
      afterDatasetsDraw(chart: Chart) {
        const { ctx, chartArea } = chart;
        const xs = chart.scales.x;
        ctx.save();
        // frame
        ctx.strokeStyle = '#000';
        ctx.lineWidth = 2.2;
        ctx.strokeRect(chartArea.left, chartArea.top, chartArea.right - chartArea.left, chartArea.bottom - chartArea.top);
        // inward ticks along the energy axis
        ctx.lineWidth = 1.8;
        ctx.beginPath();
        for (let v = E_MIN + 1; v < E_MAX; v++) {
          const px = xs.getPixelForValue(v);
          const len = v % 2 === 0 ? 7 : 4;
          ctx.moveTo(px, chartArea.bottom);
          ctx.lineTo(px, chartArea.bottom - len);
        }
        ctx.stroke();
        // ε_d tag
        const tag = epsTag[idx];
        if (tag) {
          const lx = xs.getPixelForValue(eD);
          ctx.fillStyle = BLUE;
          ctx.textAlign = 'left';
          ctx.textBaseline = 'alphabetic';
          ctx.font = `bold 25px ${SERIF}`;
          const w1 = ctx.measureText('ε').width;
          ctx.font = `bold 16px ${SERIF}`;
          const w2 = ctx.measureText('d').width;
          const startX = tag.side === 'left' ? lx - 3 - (w1 + w2) : lx + 6;
          const by = chartArea.bottom - tag.lift;
          ctx.font = `bold 25px ${SERIF}`;
          ctx.fillText('ε', startX, by);
          ctx.font = `bold 16px ${SERIF}`;
          ctx.fillText('d', startX + w1, by + 7);
        }
        ctx.restore();
      },
    };

    const curve = (pts: Pt[]) => ({
      data: toXY(pts),
      borderColor: '#000',
      borderWidth: 2.8,
      borderJoinStyle: 'round' as const,
      backgroundColor: FILL,
      fill: 'origin' as const,
      pointRadius: 0,
      cubicInterpolationMode: 'monotone' as const,
      order: 3,
    });

    const chart = new Chart(canvas, {
      type: 'line',
      data: {
        datasets: [
          curve(up),
          curve(dn),
          {
            data: [{ x: E_MIN, y: minDn }, { x: E_MAX, y: minDn }],
            borderColor: BASE_TRACE,
            borderWidth: 1,
            pointRadius: 0,
            fill: false,
            order: 4,
          },
          {
            data: [{ x: 0, y: -1 }, { x: 0, y: 1 }],
            borderColor: '#000',
            borderWidth: 2.4,
            borderDash: [9, 6],
            pointRadius: 0,
            fill: false,
            order: 2,
          },
          {
            data: [{ x: eD, y: -1 }, { x: eD, y: 1 }],
            borderColor: BLUE,
            borderWidth: 3,
            pointRadius: 0,
            fill: false,
            order: 1,
          },
        ],
      },
      options: {
        animation: false,
        responsive: false,
        maintainAspectRatio: false,
        events: [],
        layout: { padding: { left: PAD_X, right: PAD_X, top: PAD_Y, bottom: isBottom ? 0 : PAD_Y } },
        plugins: {
          legend: { display: false },
          tooltip: { enabled: false },
          filler: { drawTime: 'beforeDatasetsDraw' },
        },
        scales: {
          x: {
            type: 'linear',
            min: E_MIN,
            max: E_MAX,
            display: isBottom,
            grid: { display: false, drawTicks: false },
            border: { display: false },
            ticks: {
              stepSize: 2,
              autoSkip: false,
              maxRotation: 0,
              padding: 7,
              color: '#000',
              font: { family: SERIF, size: 20, weight: 'bold' },
            },
            title: {
              display: true,
              text: 'Energy (eV)',
              color: '#000',
              padding: 0,
              font: { family: SERIF, size: 29, weight: 'bold' },
            },
            afterFit: (scale: any) => {
              scale.height = isBottom ? AXIS_H : 0;
            },
          },
          y: { type: 'linear', min: -1, max: 1, display: false },
        },
      },
      plugins: [decor],
    } as any);
    return () => chart.destroy();
  }, [idx]);

  return (
    <canvas
      ref={ref}
      width={width}
      height={height}
      style={{
        position: 'absolute',
        left: COL_LEFT[col] - PAD_X,
        top: ROW_TOP[row] - PAD_Y,
        width,
        height,
      }}
    />
  );
}

export default function App() {
  return (
    <div style={{ position: 'absolute', left: 0, top: 0, width: 1115, height: 1358, background: '#fff', overflow: 'hidden' }}>
      {panelTags.map((t, i) => (
        <PanelChart key={t} idx={i} />
      ))}
      <div
        style={{
          position: 'absolute',
          left: 22,
          top: 650,
          transform: 'translate(-50%, -50%) rotate(-90deg)',
          font: `bold 30px ${SERIF}`,
          color: '#000',
          whiteSpace: 'nowrap',
          lineHeight: 1,
        }}
      >
        PDOS
      </div>
    </div>
  );
}
